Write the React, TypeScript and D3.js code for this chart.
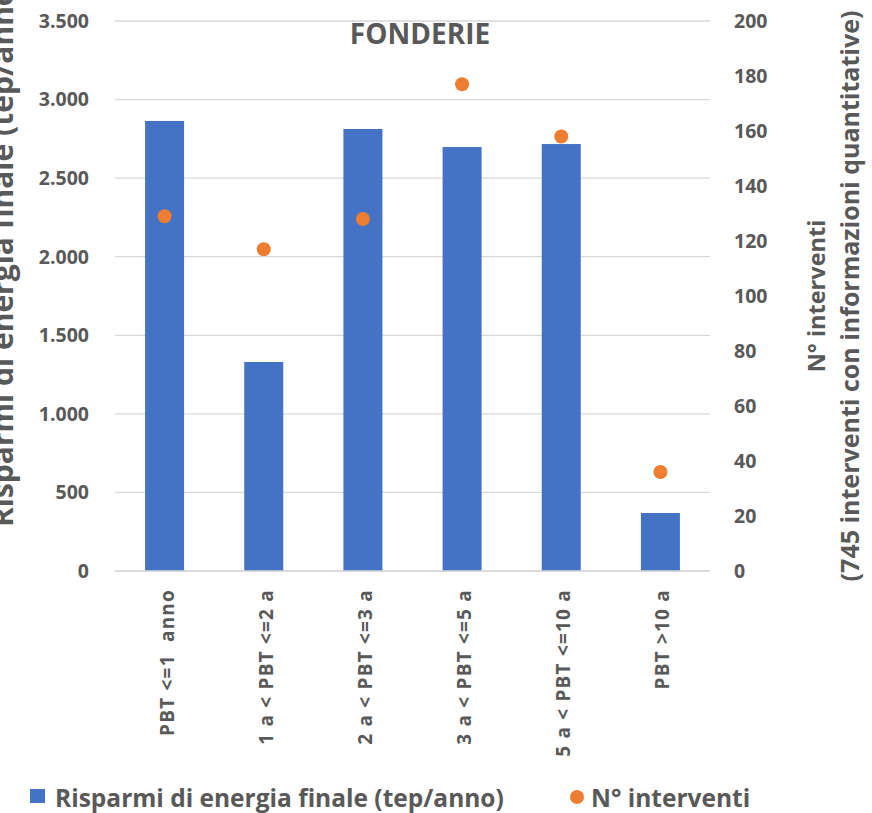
import React from "react";
import * as d3 from "d3";

const categories = ["PBT <=1  anno", "1 a < PBT <=2 a", "2 a < PBT <=3 a", "3 a < PBT <=5 a", "5 a < PBT <=10 a", "PBT >10 a"];
const risparmi = [2864, 1330, 2813, 2698, 2717, 369];
const interventi = [129, 117, 128, 177, 158, 36];
const leftTicks = [0, 500, 1000, 1500, 2000, 2500, 3000, 3500];
const rightTicks = [0, 20, 40, 60, 80, 100, 120, 140, 160, 180, 200];

const W = 872, H = 813;
const left = 115, right = 710, top = 21, bottom = 571;
const grey = "#595959";
const font = "'Open Sans', sans-serif";

export default function App() {
  const xc = d3.scaleBand<string>().domain(categories).range([left, right]);
  const yL = d3.scaleLinear().domain([0, 3500]).range([bottom, top]);
  const yR = d3.scaleLinear().domain([0, 200]).range([bottom, top]);
  const fmt = (v: number) => d3.format(",")(v).replace(/,/g, ".");
  const midY = (top + bottom) / 2;
  return (
    <svg width={W} height={H} style={{ position: "absolute", left: 0, top: 0, background: "#fff" }}>
      {leftTicks.map((t) => (
        <g key={t}>
          <line x1={left} x2={right} y1={yL(t)} y2={yL(t)} stroke="#d9d9d9" strokeWidth={1.3} />
          <text x={89} y={yL(t)} dy="0.35em" textAnchor="end" fontFamily={font} fontWeight={700} fontSize={19.5} fill={grey}>{fmt(t)}</text>
        </g>
      ))}
      {rightTicks.map((t) => (
        <text key={t} x={734} y={yR(t)} dy="0.35em" textAnchor="start" fontFamily={font} fontWeight={700} fontSize={19.5} fill={grey}>{t}</text>
      ))}
      {categories.map((c, i) => (
        <rect key={c} x={xc(c)! + xc.bandwidth() / 2 - 19.5} width={39} y={yL(risparmi[i])} height={bottom - yL(risparmi[i])} fill="#4472c4" />
      ))}
      <line x1={left} x2={right} y1={bottom} y2={bottom} stroke="#d9d9d9" strokeWidth={1.3} />
      {categories.map((c, i) => (
        <circle key={c} cx={xc(c)! + xc.bandwidth() / 2} cy={yR(interventi[i])} r={7} fill="#ed7d31" />
      ))}
      {categories.map((c) => {
        const cx = xc(c)! + xc.bandwidth() / 2;
        return (
          <text key={c} transform={`translate(${cx + 9},589) rotate(-90)`} textAnchor="end" fontFamily={font} fontWeight={700} fontSize={19} letterSpacing={1.2} fill={grey} style={{ whiteSpace: "pre" }}>{c}</text>
        );
      })}
      <text x={420} y={44} textAnchor="middle" fontFamily={font} fontWeight={700} fontSize={28} fill={grey}>FONDERIE</text>
      <text transform={`translate(13,527) rotate(-90)`} textAnchor="start" fontFamily={font} fontWeight={700} fontSize={30} fill={grey}>Risparmi di energia finale (tep/anno)</text>
      <text transform={`translate(825,${midY}) rotate(-90)`} textAnchor="middle" fontFamily={font} fontWeight={700} fontSize={23.5} fill={grey}>N° interventi</text>
      <text transform={`translate(859,${midY}) rotate(-90)`} textAnchor="middle" fontFamily={font} fontWeight={700} fontSize={25} fill={grey}>(745 interventi con informazioni quantitative)</text>
      <rect x={30} y={789} width={15} height={14} fill="#4472c4" />
      <text x={55} y={807} fontFamily={font} fontWeight={700} fontSize={24.5} fill={grey}>Risparmi di energia finale (tep/anno)</text>
      <circle cx={577} cy={797} r={7} fill="#ed7d31" />
      <text x={591} y={807} fontFamily={font} fontWeight={700} fontSize={24.5} fill={grey}>N° interventi</text>
    </svg>
  );
}
